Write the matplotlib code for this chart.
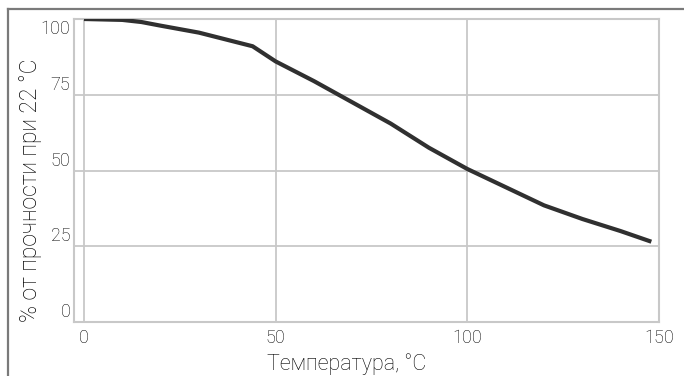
import matplotlib
matplotlib.use("Agg")
import matplotlib.pyplot as plt
from matplotlib.lines import Line2D

# ── data ─────────────────────────────────────────────────────────────────────
temp = [0, 10, 15, 20, 30, 44, 50, 60, 70, 80, 90, 100, 110, 120, 130, 140, 148]
strength = [100, 99.7, 99.0, 97.8, 95.5, 91.0, 86.0, 79.5, 72.5, 65.5, 57.5,
            50.5, 44.5, 38.5, 34.0, 30.0, 26.5]
xticks = [0, 50, 100, 150]
yticks = [0, 25, 50, 75, 100]

W, H = 684, 376
FONT = ["Roboto", "DejaVu Sans"]
TXT = "#000000"
GRID = "#c8c8c8"

fig = plt.figure(figsize=(W / 100, H / 100), dpi=100)
fig.patch.set_facecolor("white")
ax = fig.add_axes([74 / W, 1 - 322 / H, (659 - 74) / W, (322 - 19) / H])

ax.plot(temp, strength, color="#303030", lw=3.0, solid_capstyle="butt",
        solid_joinstyle="round", zorder=3)

ax.set_xlim(-2.6, 150)
ax.set_ylim(0, 100)
ax.set_xticks(xticks)
ax.set_yticks(yticks)
ax.grid(True, color=GRID, lw=1.3)
for s in ax.spines.values():
    s.set_color(GRID)
    s.set_linewidth(1.5)
ax.tick_params(length=0)
ax.set_yticklabels([])
ax.set_xticklabels([])

# y tick labels sit on top of their gridlines; the top one hangs below the frame
for y in yticks:
    top = y == yticks[-1]
    ax.text(-0.006, y + (-0.3 if top else 0.3), str(y),
            transform=ax.get_yaxis_transform(), ha="right",
            va="top" if top else "bottom", fontsize=13, color=TXT,
            family=FONT, fontweight="light")
for x in xticks:
    ax.text(x, -0.022, str(x), transform=ax.get_xaxis_transform(),
            ha="center", va="top", fontsize=13, color=TXT,
            family=FONT, fontweight="light")

fig.text(347 / W, 1 - 370 / H, "Температура, °C", ha="center", va="baseline",
         fontsize=15.5, color=TXT, family=FONT, fontweight="light")
fig.text(31 / W, 1 - 190 / H, "% от прочности при 22 °C", ha="center", va="center",
         rotation=90, fontsize=16.5, color=TXT, family=FONT, fontweight="light")

# outer frame (left and top only)
fig.add_artist(Line2D([8 / W, 8 / W], [0, 1 - 9 / H], transform=fig.transFigure,
                      color="#7a7a7a", lw=1.6))
fig.add_artist(Line2D([8 / W, 1], [1 - 9 / H, 1 - 9 / H], transform=fig.transFigure,
                      color="#7a7a7a", lw=1.6))

fig.savefig("out.png", dpi=100, facecolor="white")
